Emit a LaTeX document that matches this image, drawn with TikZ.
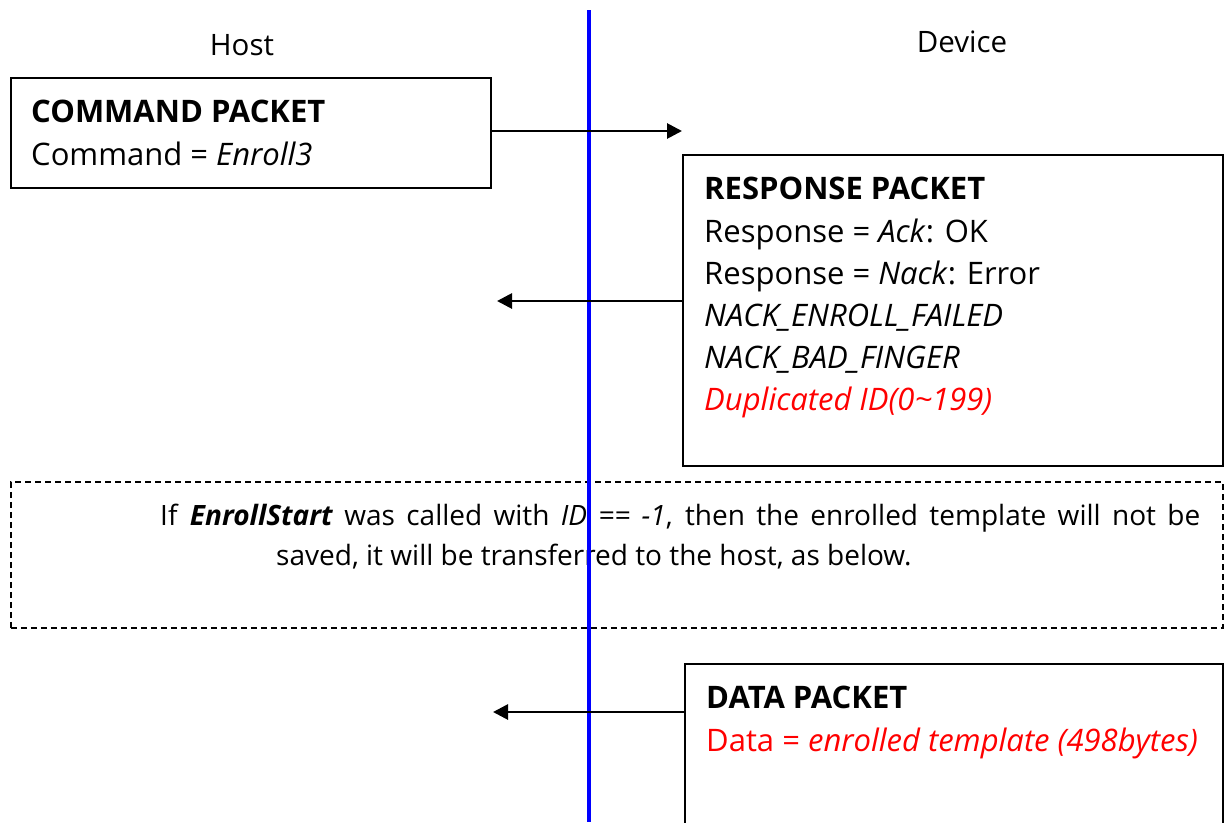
\documentclass[tikz,border=0pt]{standalone}
\usepackage{fontspec}
\setmainfont{Open Sans}
\usetikzlibrary{arrows.meta}
\definecolor{lifeblue}{RGB}{0,0,255}
\definecolor{errred}{RGB}{255,0,0}
\tikzset{
  box/.style={draw=black, line width=1.6pt, fill=white, rectangle, inner sep=0pt},
  dbox/.style={draw=black, line width=1.6pt, dash pattern=on 6pt off 4pt, rectangle, inner sep=0pt},
  txt/.style={anchor=base west, inner sep=0pt, font=\fontsize{31}{42}\selectfont},
  ntxt/.style={anchor=base west, inner sep=0pt, font=\fontsize{28}{42}\selectfont},
  ctxt/.style={anchor=base, inner sep=0pt, font=\fontsize{29.5}{42}\selectfont},
  msg/.style={draw=black, line width=2.8pt, -{Triangle[length=15pt,width=15pt]}},
  life/.style={draw=lifeblue, line width=3.5pt}
}
\begin{document}
\begin{tikzpicture}[x=1pt,y=-1pt]
\useasboundingbox (0,0) rectangle (1231,822);
% header labels
\node[ctxt] (host) at (242,55) {Host};
\node[ctxt] (device) at (962,52) {Device};
% boxes
\node[box, minimum width=480pt, minimum height=110pt, anchor=north west] (cmd) at (10,77) {};
\node[box, minimum width=540pt, minimum height=311pt, anchor=north west] (resp) at (682,154) {};
\node[dbox, minimum width=1212pt, minimum height=146pt, anchor=north west] (note) at (10,481) {};
\node[box, minimum width=538pt, minimum height=200pt, anchor=north west] (data) at (684,663) {};
% lifeline
\coordinate (ltop) at (589,10);
\coordinate (lbot) at (589,822);
% texts
\node[txt] (cmdt) at (31,122) {\bfseries COMMAND PACKET};
\node[txt] (cmdc) at (31,165) {Command = \itshape Enroll3};
\node[txt] (r1) at (704,199) {\bfseries RESPONSE PACKET};
\node[txt] (r2) at (704,242) {Response = \textit{Ack}: OK};
\node[txt] (r3) at (704,284) {Response = \textit{Nack}: Error};
\node[txt] (r4) at (704,326) {\itshape NACK\_ENROLL\_FAILED};
\node[txt] (r5) at (704,368) {\itshape NACK\_BAD\_FINGER};
\node[txt, text=errred] (r6) at (704,410) {\itshape Duplicated ID(0\char`~199)};
\node[ntxt] (n1) at (160,525) {\makebox[1040pt][s]{If \textbf{\textit{EnrollStart}} was called with \textit{ID == -1}, then the enrolled template will not be}};
\node[ntxt] (n2) at (276,565) {saved, it will be transferred to the host, as below.};
\node[txt] (d1) at (706,708) {\bfseries DATA PACKET};
\node[txt, text=errred] (d2) at (706,751) {Data = \itshape enrolled template (498bytes)};
\draw[life] (ltop) -- (lbot);
% arrows
\coordinate (a1end) at (682,131);
\coordinate (a2end) at (497,301);
\coordinate (a3end) at (493,712);
\draw[msg] (cmd.east |- a1end) -- (a1end);
\draw[msg] (resp.west |- a2end) -- (a2end);
\draw[msg] (data.west |- a3end) -- (a3end);
\end{tikzpicture}
\end{document}
